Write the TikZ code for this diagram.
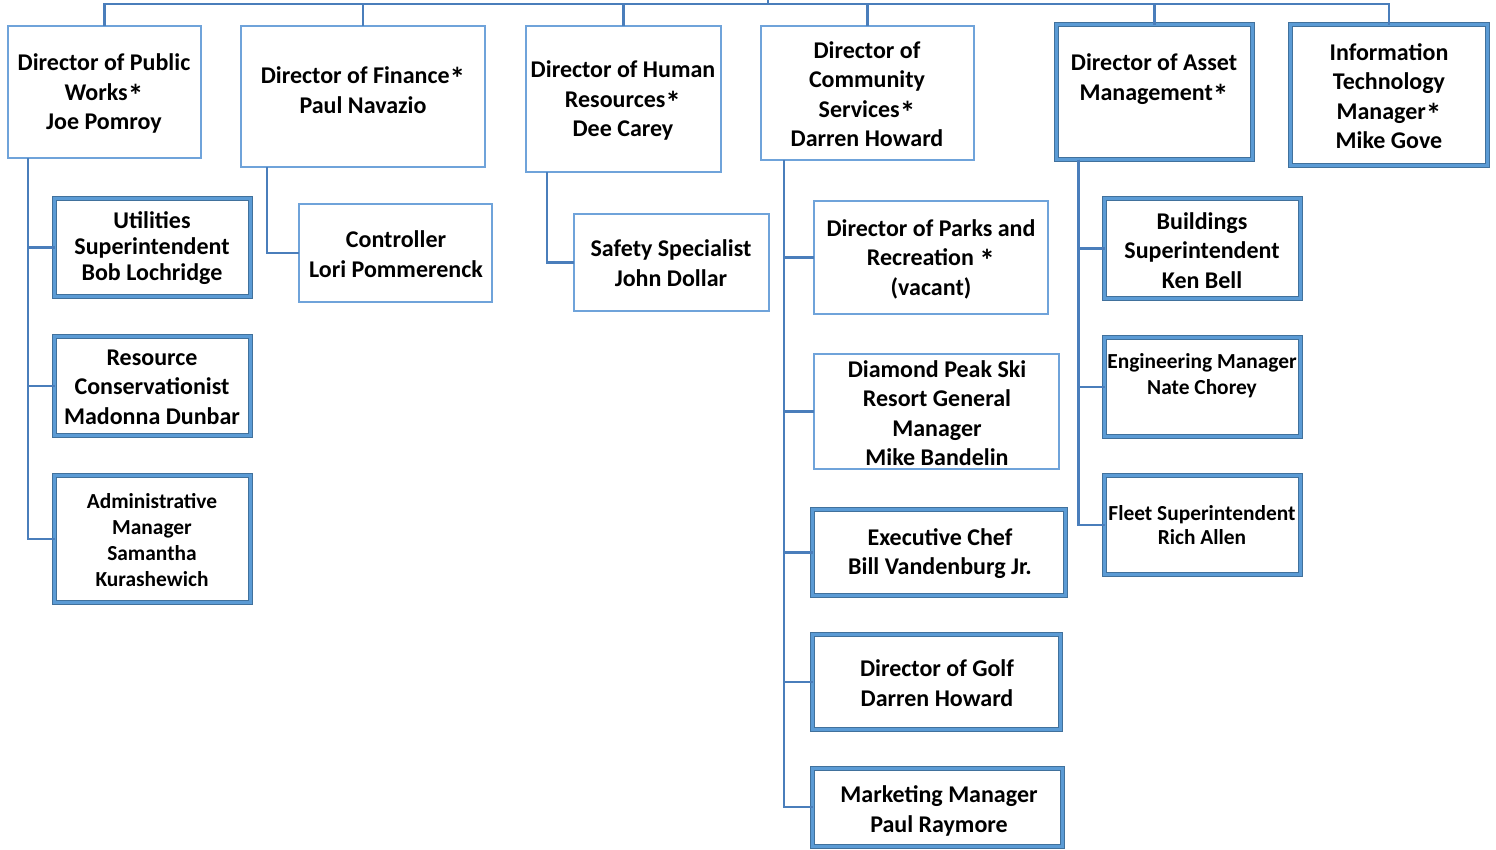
\documentclass[tikz,border=0pt]{standalone}
\usepackage{fontspec}
\setmainfont{Carlito}
\definecolor{conncol}{HTML}{4A7EBB}
\definecolor{lightb}{HTML}{6FA3DA}
\definecolor{midb}{HTML}{5B9BD5}
\definecolor{darkb}{HTML}{41719C}
\newcommand\myast{\smash{\raisebox{-0.25em}{\scalebox{1.3}{*}}}}
\begin{document}
\begin{tikzpicture}[x=1pt,y=-1pt,
  sbox/.style={draw=lightb, line width=2.8pt, rectangle, outer sep=0pt, inner sep=0pt},
  dbox/.style={draw=midb, line width=3pt, preaction={draw=darkb, line width=5pt}, rectangle, outer sep=0pt, inner sep=0pt},
  txt/.style={align=center, font=\bfseries\fontsize{24}{29.5}\selectfont, inner sep=0pt},
  stxt/.style={align=center, font=\bfseries\fontsize{21.4}{26}\selectfont, inner sep=0pt},
  conn/.style={draw=conncol, line width=2.5pt}]
\useasboundingbox (0,0) rectangle (1496,849);
% boxes
\node[sbox, minimum width=193pt, minimum height=132pt] (pw) at (104.5,92) {};
\node[sbox, minimum width=244pt, minimum height=141pt] (fin) at (363,96.5) {};
\node[sbox, minimum width=195pt, minimum height=146pt] (hr) at (623.5,99) {};
\node[sbox, minimum width=213pt, minimum height=134pt] (cs) at (867.5,93) {};
\node[dbox, minimum width=196pt, minimum height=135pt] (am) at (1154.5,92) {};
\node[dbox, minimum width=197pt, minimum height=141pt] (it) at (1389,95) {};
\node[dbox, minimum width=196pt, minimum height=98pt] (ut) at (152.5,247.5) {};
\node[dbox, minimum width=196pt, minimum height=99pt] (rc) at (152.5,386) {};
\node[dbox, minimum width=196pt, minimum height=127pt] (ad) at (152.5,539) {};
\node[sbox, minimum width=193pt, minimum height=98pt] (ct) at (395.5,253) {};
\node[sbox, minimum width=195pt, minimum height=97pt] (sf) at (671.5,262.5) {};
\node[sbox, minimum width=234pt, minimum height=113pt] (pk) at (931,257.5) {};
\node[sbox, minimum width=245pt, minimum height=115pt] (dp) at (936.5,411.5) {};
\node[dbox, minimum width=253pt, minimum height=86pt] (ch) at (939,552.5) {};
\node[dbox, minimum width=248pt, minimum height=95pt] (gf) at (936.5,682) {};
\node[dbox, minimum width=250pt, minimum height=78pt] (mk) at (937.5,807) {};
\node[dbox, minimum width=196pt, minimum height=100pt] (bd) at (1202.5,248.5) {};
\node[dbox, minimum width=196pt, minimum height=99pt] (en) at (1202.5,387) {};
\node[dbox, minimum width=196pt, minimum height=99pt] (fl) at (1202.5,525) {};
% texts
\node[txt] (pwt) at (104,93.5) {Director of Public\\Works\myast\\Joe Pomroy};
\node[txt] (fint) at (363,90) {Director of Finance\myast\\Paul Navazio};
\node[txt] (hrt) at (623,100.5) {Director of Human\\Resources\myast\\Dee Carey};
\node[txt] (cst) at (867,94) {Director of\\Community\\Services\myast\\Darren Howard};
\node[txt] (amt) at (1154,79) {Director of Asset\\Management\myast};
\node[txt] (itt) at (1389,96) {Information\\Technology\\Manager\myast\\Mike Gove};
\node[txt, font=\bfseries\fontsize{24}{26}\selectfont] (utt) at (152,248) {Utilities\\Superintendent\\Bob Lochridge};
\node[txt] (rct) at (152,387) {Resource\\Conservationist\\Madonna Dunbar};
\node[stxt] (adt) at (152,540) {Administrative\\Manager\\Samantha\\Kurashewich};
\node[txt] (ctt) at (396,254) {Controller\\Lori Pommerenck};
\node[txt] (sft) at (671,263) {Safety Specialist\\John Dollar};
\node[txt] (pkt) at (931,259) {Director of Parks and\\Recreation \myast\\(vacant)};
\node[txt] (dpt) at (937,413) {Diamond Peak Ski\\Resort General\\Manager\\Mike Bandelin};
\node[txt] (cht) at (940,553.5) {Executive Chef\\Bill Vandenburg Jr.};
\node[txt] (gft) at (937,683) {Director of Golf\\Darren Howard};
\node[txt] (mkt) at (939,811) {Marketing Manager\\Paul Raymore};
\node[txt] (bdt) at (1202,250.5) {Buildings\\Superintendent\\Ken Bell};
\node[stxt] (ent) at (1202,376) {Engineering Manager\\Nate Chorey};
\node[stxt, font=\bfseries\fontsize{21.4}{24}\selectfont] (flt) at (1202,525) {Fleet Superintendent\\Rich Allen};
% top bus
\coordinate (top) at (768,0);
\coordinate (bus) at (768,4);
\draw[conn] (top) -- (bus);
\draw[conn] (pw.north) |- (bus);
\draw[conn] (fin.north) |- (bus);
\draw[conn] (hr.north) |- (bus);
\draw[conn] (cs.north) |- (bus);
\draw[conn] (am.north) |- (bus);
\draw[conn] (it.north) |- (bus);
% children
\draw[conn] ([xshift=20pt]pw.south west) |- (ad.west);
\draw[conn] ([xshift=20pt]pw.south west) |- (ut.west);
\draw[conn] ([xshift=20pt]pw.south west) |- (rc.west);
\draw[conn] ([xshift=26pt]fin.south west) |- (ct.west);
\draw[conn] ([xshift=21pt]hr.south west) |- (sf.west);
\draw[conn] ([xshift=23pt]cs.south west) |- (mk.west);
\draw[conn] ([xshift=23pt]cs.south west) |- (pk.west);
\draw[conn] ([xshift=23pt]cs.south west) |- (dp.west);
\draw[conn] ([xshift=23pt]cs.south west) |- (ch.west);
\draw[conn] ([xshift=23pt]cs.south west) |- (gf.west);
\draw[conn] ([xshift=22pt]am.south west) |- (fl.west);
\draw[conn] ([xshift=22pt]am.south west) |- (bd.west);
\draw[conn] ([xshift=22pt]am.south west) |- (en.west);
\end{tikzpicture}
\end{document}
